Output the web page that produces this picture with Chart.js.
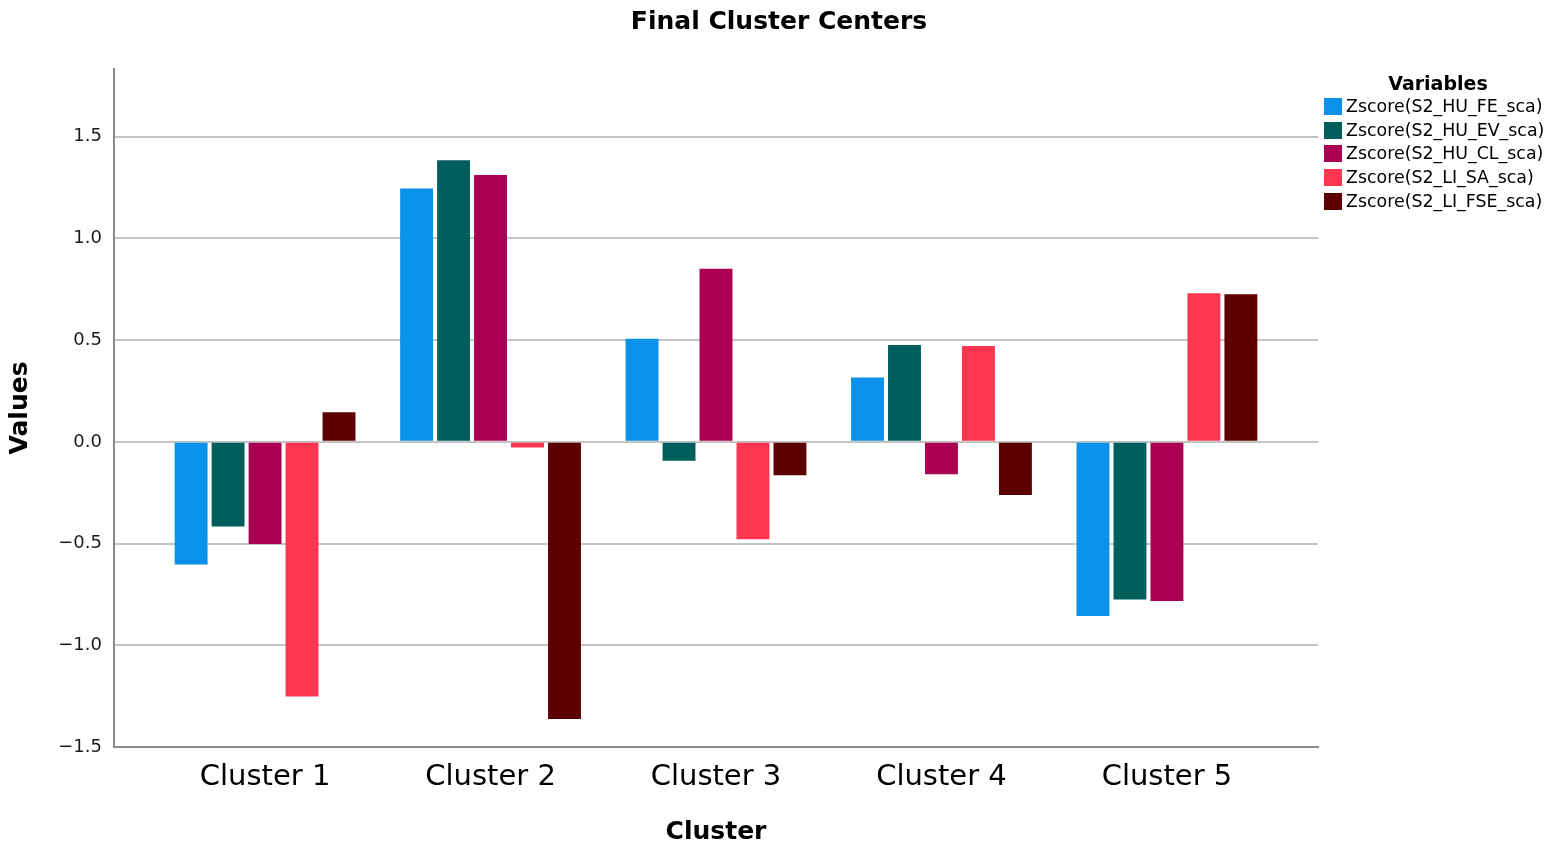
<!DOCTYPE html>
<html>
<head>
<meta charset="utf-8">
<script src="https://cdn.jsdelivr.net/npm/chart.js@4.4.1/dist/chart.umd.min.js"></script>
<style>
  html, body { margin: 0; padding: 0; background: #ffffff; }
  #wrap { position: relative; width: 1558px; height: 851px; }
  #legend { position: absolute; left: 1318px; top: 71px; width: 240px; font-family: "DejaVu Sans", sans-serif; color: #000; }
  #legend .ttl { text-align: center; font-weight: bold; font-size: 19px; line-height: 24px; margin-left: 0px; }
  #legend .row { position: relative; height: 23.7px; }
  #legend .sw { position: absolute; left: 6px; top: 3px; width: 18px; height: 17px; }
  #legend .lb { position: absolute; left: 28px; top: 0; font-size: 17.4px; line-height: 23px; white-space: nowrap; }
</style>
</head>
<body>
<div id="wrap">
  <canvas id="c" width="1558" height="851"></canvas>
  <div id="legend"></div>
</div>
<script>
// ---- data ----
const clusters = ["Cluster 1", "Cluster 2", "Cluster 3", "Cluster 4", "Cluster 5"];
const variableNames = [
  "Zscore(S2_HU_FE_sca)",
  "Zscore(S2_HU_EV_sca)",
  "Zscore(S2_HU_CL_sca)",
  "Zscore(S2_LI_SA_sca)",
  "Zscore(S2_LI_FSE_sca)"
];
const hu_fe  = [-0.603,  1.246,  0.507,  0.317, -0.856];
const hu_ev  = [-0.416,  1.384, -0.093,  0.476, -0.775];
const hu_cl  = [-0.502,  1.312,  0.851, -0.159, -0.782];
const li_sa  = [-1.252, -0.028, -0.479,  0.471,  0.730];
const li_fse = [ 0.145, -1.362, -0.164, -0.261,  0.726];
const yTicks = [-1.5, -1.0, -0.5, 0.0, 0.5, 1.0, 1.5];
const colors = ["#0a91ea", "#005e5c", "#ab0153", "#fe3650", "#5d0001"];

const seriesValues = [hu_fe, hu_ev, hu_cl, li_sa, li_fse];

const datasets = seriesValues.map((vals, k) => ({
  label: variableNames[k],
  data: vals.map((v, i) => ({ x: i, y: v })),
  backgroundColor: colors[k],
  borderWidth: 0,
  categoryPercentage: 0.82,
  barPercentage: 0.89
}));

const FONT = "'DejaVu Sans', sans-serif";

new Chart(document.getElementById("c"), {
  type: "bar",
  data: { datasets },
  options: {
    responsive: false,
    animation: false,
    layout: { padding: { left: 0, right: 0, top: 0, bottom: 0 } },
    plugins: {
      legend: { display: false },
      tooltip: { enabled: false },
      title: {
        display: true,
        text: "Final Cluster Centers",
        color: "#000",
        font: { family: FONT, size: 25, weight: "bold", lineHeight: 1.2 },
        padding: { top: 7, bottom: 32 }
      }
    },
    scales: {
      x: {
        type: "linear",
        offset: false,
        min: -0.67,
        max: 4.67,
        afterBuildTicks: s => { s.ticks = clusters.map((c, i) => ({ value: i })); },
        afterFit: s => { s.height = 104; },
        ticks: {
          color: "#000",
          font: { family: FONT, size: 29 },
          padding: 13,
          maxRotation: 0,
          autoSkip: false,
          callback: v => clusters[v] ?? ""
        },
        grid: { display: false, drawTicks: false },
        border: { display: true, color: "#8a8a8a", width: 2 },
        title: {
          display: true,
          text: "Cluster",
          color: "#000",
          font: { family: FONT, size: 25, weight: "bold", lineHeight: 1.2 },
          padding: { top: 0, bottom: 4 }
        }
      },
      y: {
        type: "linear",
        position: "left",
        min: -1.5,
        max: 1.833,
        afterBuildTicks: s => { s.ticks = yTicks.map(v => ({ value: v })); },
        afterFit: s => { s.width = 114; },
        ticks: {
          color: "#1a1a1a",
          font: { family: FONT, size: 18 },
          padding: 12,
          callback: v => Number(v).toFixed(1).replace("-", "\u2212")
        },
        grid: { color: "#c4c4c4", lineWidth: 2, drawTicks: false },
        border: { display: true, color: "#8a8a8a", width: 2 },
        title: {
          display: true,
          text: "Values",
          color: "#000",
          font: { family: FONT, size: 25, weight: "bold", lineHeight: 1.2 },
          padding: { top: 5, bottom: 0 }
        }
      },
      spacer: {
        type: "linear",
        position: "right",
        display: true,
        afterFit: s => { s.width = 240; },
        ticks: { display: false },
        grid: { display: false, drawTicks: false },
        border: { display: false }
      }
    }
  }
});

// HTML legend built from the same arrays
const lg = document.getElementById("legend");
const t = document.createElement("div");
t.className = "ttl";
t.textContent = "Variables";
lg.appendChild(t);
variableNames.forEach((n, k) => {
  const r = document.createElement("div");
  r.className = "row";
  const sw = document.createElement("div");
  sw.className = "sw";
  sw.style.background = colors[k];
  const lb = document.createElement("div");
  lb.className = "lb";
  lb.textContent = n;
  r.appendChild(sw);
  r.appendChild(lb);
  lg.appendChild(r);
});
</script>
</body>
</html>
